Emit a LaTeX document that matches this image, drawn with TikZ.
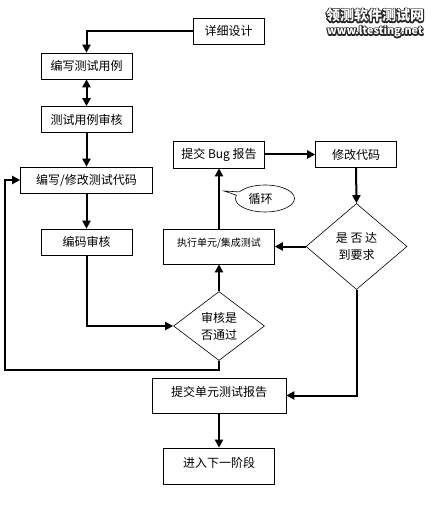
\documentclass[tikz,border=0pt]{standalone}
\usepackage{fontspec}
\usepackage{tikz}
\usetikzlibrary{arrows.meta,shapes.geometric,shapes.callouts}
\setmainfont{Noto Sans CJK SC}

\newcommand{\outlined}[1]{\rlap{\special{pdf:code q 1 Tr 2.4 w 0.15 G 1 j}#1\special{pdf:code Q}}\special{pdf:code q 1 g}#1\special{pdf:code Q}}

\tikzset{
    stepbox/.style={draw=black, line width=0.6pt, fill=white, inner sep=0pt, font=\fontsize{12}{12}\selectfont},
    checkbox/.style={diamond, draw=black, line width=0.6pt, fill=white, inner sep=0pt, align=center, aspect=1.2, font=\fontsize{12}{17}\selectfont},
    flowline/.style={line width=2pt, -{Triangle[length=8pt,width=8pt]}},
    marktext/.style={inner sep=0pt, font=\fontsize{#1}{#1}\selectfont\bfseries}
}

\begin{document}
\begin{tikzpicture}[x=1pt, y=-1pt]
    \useasboundingbox (0,0) rectangle (437,510);

    % left column
    \node[stepbox, minimum width=71pt, minimum height=26pt] (design) at (228.5,31) {详细设计};
    \node[stepbox, minimum width=91pt, minimum height=26pt] (cases) at (86.5,66) {编写测试用例};
    \node[stepbox, minimum width=91pt, minimum height=26pt] (caseReview) at (86.5,119.5) {测试用例审核};
    \node[stepbox, minimum width=132pt, minimum height=26pt] (code) at (86.5,180) {编写/修改测试代码};
    \node[stepbox, minimum width=91pt, minimum height=26pt] (codeReview) at (86.5,242) {编码审核};

    % right side
    \node[stepbox, minimum width=91pt, minimum height=27pt] (bug) at (219,154.5) {提交 Bug 报告};
    \node[stepbox, minimum width=81pt, minimum height=26pt] (fix) at (356,154.5) {修改代码};
    \node[stepbox, minimum width=111pt, minimum height=35pt, text depth=9pt, font=\fontsize{10}{10}\selectfont] (run) at (219,246.5) {执行单元/集成测试};
    \node[checkbox, minimum width=101pt, minimum height=86pt] (goal) at (356.5,246.5) {是 否 达\\到要求};
    \node[checkbox, minimum width=91pt, minimum height=69pt] (pass) at (219,326) {审核是\\否通过};
    \node[stepbox, minimum width=134pt, minimum height=35pt, text depth=8pt] (report) at (219,395.5) {提交单元测试报告};
    \node[stepbox, minimum width=111pt, minimum height=36pt, text depth=8pt] (next) at (219,466) {进入下一阶段};

    \coordinate (loopCorner) at (5,370);

    \draw[flowline] (design.west) -| (cases.north);
    \draw[flowline, {Triangle[length=8pt,width=8pt]}-{Triangle[length=8pt,width=8pt]}] (cases.south) -- (caseReview.north);
    \draw[flowline] (caseReview.south) -- (code.north);
    \draw[flowline] (code.south) -- (codeReview.north);
    \draw[flowline] (codeReview.south) |- (pass.west);
    \draw[flowline] (pass.north) -- (run.south);
    \draw[flowline] (run.north) -- (bug.south);
    \draw[flowline] (bug.east) -- (fix.west);
    \draw[flowline] (fix.south) -- (goal.north);
    \draw[flowline] (goal.west) -- (run.east);
    \draw[flowline] (goal.south) |- (report.east);
    \draw[flowline] (report.south) -- (next.north);
    \draw[flowline] (pass.south) |- (loopCorner) |- (code.west);

    % note beside the loop
    \node[ellipse callout, draw=black, line width=0.6pt, fill=white, inner sep=0pt,
        minimum width=59pt, minimum height=27pt, callout absolute pointer={(224,191)},
        font=\fontsize{12}{12}\selectfont] (note) at (265,198.5) {循环\hspace*{9pt}};

    % watermark
    \node[marktext=14] (markTop) at (375,15.5) {\outlined{领测软件测试网}};
    \node[marktext=10.8] (markUrl) at (375,31.5) {\outlined{www.ltesting.net}};
\end{tikzpicture}
\end{document}
